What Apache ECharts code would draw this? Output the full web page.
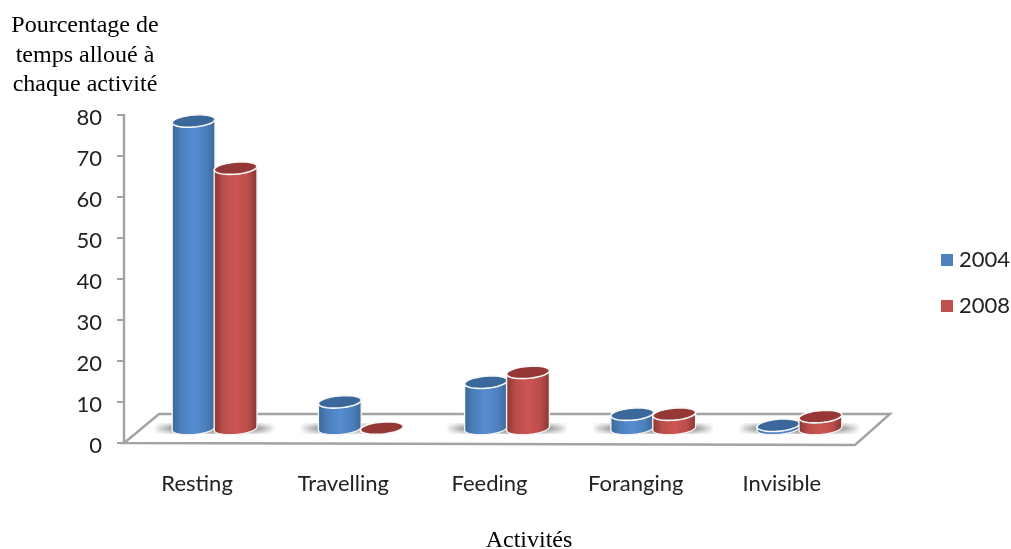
<!DOCTYPE html>
<html>
<head>
<meta charset="utf-8">
<style>html,body{margin:0;padding:0;background:#fff}#chart{width:1011px;height:549px}</style>
<script src="https://cdn.jsdelivr.net/npm/echarts@6/dist/echarts.min.js"></script>
</head>
<body>
<div id="chart"></div>
<script>
const categories = ['Resting', 'Travelling', 'Feeding', 'Foranging', 'Invisible'];
const years = ['2004', '2008'];
const values2004 = [75, 6.5, 11.3, 3.5, 0.8];
const values2008 = [63.5, 0.1, 13.7, 3.5, 2.9];
const yTicks = { min: 0, max: 80, interval: 10 };

// Pseudo-3D geometry: cylinders stand in the middle of a sheared floor.
const FLOOR_DX = 35, FLOOR_DY = -29;
const RX = 21.5, RY = 6, TILT = -5 * Math.PI / 180, BAR_STEP = 42;
const LABEL_FONT = 'Lato';
const SERIF = 'Liberation Serif';

function sidePalette(c) {
  return new echarts.graphic.LinearGradient(0, 0, 1, 0, [
    { offset: 0, color: c[0] }, { offset: 0.22, color: c[1] },
    { offset: 0.5, color: c[2] }, { offset: 0.78, color: c[1] }, { offset: 1, color: c[0] }
  ]);
}
const BLUE = { side: ['#3a6592', '#4b7fbd', '#558dd0'], top: '#3a689b', legend: '#4f81bd' };
const RED = { side: ['#853533', '#bb4d4a', '#cd5653'], top: '#953735', legend: '#c0504d' };

function ellipsePoint(cx, cy, a) {
  const x = RX * Math.cos(a), y = RY * Math.sin(a);
  return [cx + x * Math.cos(TILT) - y * Math.sin(TILT), cy + x * Math.sin(TILT) + y * Math.cos(TILT)];
}
function arc(cx, cy, from, to, n) {
  const pts = [];
  for (let i = 0; i <= n; i++) pts.push(ellipsePoint(cx, cy, from + (to - from) * i / n));
  return pts;
}
function seatOf(api, seriesIdx) {
  const v = api.value(1);
  const top = api.coord([api.value(0), v]);
  const base = api.coord([api.value(0), 0]);
  const shift = (seriesIdx === 0 ? -1 : 1) * BAR_STEP / 2;
  return { x: base[0] + FLOOR_DX / 2 + shift, yBase: base[1] + FLOOR_DY / 2, yTop: top[1] + FLOOR_DY / 2, v };
}

function cylinderRenderer(idx, pal) {
  return function (params, api) {
    const s = seatOf(api, idx);
    const lower = arc(s.x, s.yBase, Math.PI, 0, 32);
    const side = [ellipsePoint(s.x, s.yTop, Math.PI)].concat(lower, [ellipsePoint(s.x, s.yTop, 0)]);
    return {
      type: 'group',
      children: [
        { type: 'polygon', shape: { points: side },
          style: { fill: sidePalette(pal.side), stroke: '#f4f4f4', lineWidth: 1.4 } },
        { type: 'polygon', shape: { points: arc(s.x, s.yTop, 0, Math.PI * 2, 48) },
          style: { fill: pal.top, stroke: '#f8f8f8', lineWidth: 1.6 } }
      ]
    };
  };
}

function shadowRenderer(idx) {
  return function (params, api) {
    const s = seatOf(api, idx);
    if (s.v < 0.6) return null;
    const layers = [[11, 0.2], [8, 0.26], [4, 0.34]];
    return {
      type: 'group',
      children: layers.map(function (l) {
        return {
          type: 'rect',
          shape: { x: s.x - 40, y: s.yBase - l[0] / 2, width: 80, height: l[0] },
          style: {
            fill: new echarts.graphic.LinearGradient(0, 0, 1, 0, [
              { offset: 0, color: 'rgba(90,90,90,0)' },
              { offset: 0.26, color: 'rgba(90,90,90,' + l[1] + ')' },
              { offset: 0.74, color: 'rgba(90,90,90,' + l[1] + ')' },
              { offset: 1, color: 'rgba(90,90,90,0)' }
            ])
          }
        };
      })
    };
  };
}

function floorRenderer(params) {
  const g = params.coordSys;
  const xL = g.x, xR = g.x + g.width, y = g.y + g.height;
  return {
    type: 'polygon',
    shape: { points: [[xL, y], [xR, y + 2], [xR + FLOOR_DX, y + FLOOR_DY], [xL + FLOOR_DX, y + FLOOR_DY]] },
    style: { fill: '#fff', stroke: '#a3a3a3', lineWidth: 2.4 }
  };
}

const pairs = function (vals) { return vals.map(function (v, i) { return [i, v]; }); };

const chart = echarts.init(document.getElementById('chart'), null, { renderer: 'canvas' });
chart.setOption({
  animation: false,
  backgroundColor: '#fff',
  title: [
    { text: 'Pourcentage de\ntemps alloué à\nchaque activité', left: 80, top: 6, textAlign: 'center',
      textStyle: { fontFamily: SERIF, fontSize: 24, fontWeight: 'normal', color: '#000', lineHeight: 29.5, align: 'center' } },
    { text: 'Activités', left: 524, top: 524, textAlign: 'center',
      textStyle: { fontFamily: SERIF, fontSize: 24, fontWeight: 'normal', color: '#000' } }
  ],
  legend: {
    orient: 'vertical', left: 936, top: 244, itemWidth: 12, itemHeight: 12, itemGap: 24,
    icon: 'rect', data: years, selectedMode: false,
    textStyle: { fontFamily: LABEL_FONT, fontSize: 22, color: '#222', padding: [2, 0, 0, 1] }
  },
  grid: { left: 124, right: 156, top: 115, bottom: 106, containLabel: false },
  xAxis: {
    type: 'category', data: categories,
    axisLine: { show: false }, axisTick: { show: false },
    axisLabel: { fontFamily: LABEL_FONT, fontSize: 22, color: '#222', margin: 30 }
  },
  yAxis: {
    type: 'value', min: yTicks.min, max: yTicks.max, interval: yTicks.interval,
    splitLine: { show: false },
    axisLine: { show: true, lineStyle: { color: '#a3a3a3', width: 2.4 } },
    axisTick: { show: true, length: 7, lineStyle: { color: '#a3a3a3', width: 2 } },
    axisLabel: { fontFamily: LABEL_FONT, fontSize: 22, color: '#222', margin: 22, verticalAlign: 'top', lineHeight: 6 }
  },
  series: [
    { type: 'custom', name: 'floor', data: [[0, 0]], clip: false, z: 1, renderItem: floorRenderer, silent: true },
    { type: 'custom', name: 'shadow2004', data: pairs(values2004), clip: false, z: 2, renderItem: shadowRenderer(0), silent: true },
    { type: 'custom', name: 'shadow2008', data: pairs(values2008), clip: false, z: 2, renderItem: shadowRenderer(1), silent: true },
    { type: 'custom', name: years[0], data: pairs(values2004), clip: false, z: 3,
      itemStyle: { color: BLUE.legend }, renderItem: cylinderRenderer(0, BLUE) },
    { type: 'custom', name: years[1], data: pairs(values2008), clip: false, z: 3,
      itemStyle: { color: RED.legend }, renderItem: cylinderRenderer(1, RED) }
  ]
});
</script>
</body>
</html>
